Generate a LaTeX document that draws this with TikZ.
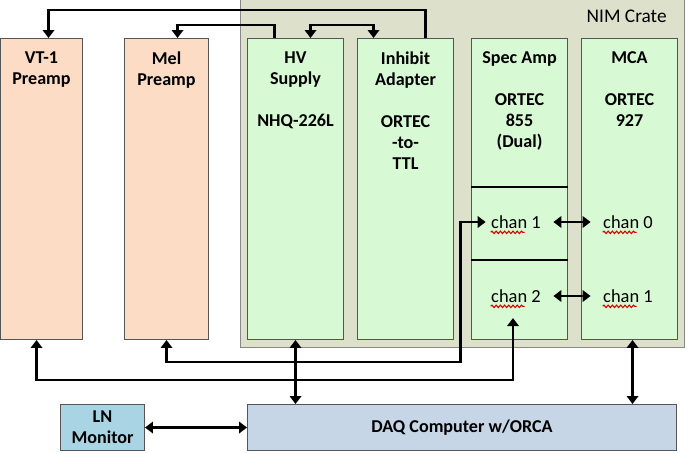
\documentclass[tikz,border=0pt]{standalone}
\usepackage{fontspec}
\setmainfont{Carlito}
\usepackage{xcolor}
\usetikzlibrary{arrows.meta, positioning, calc, decorations.pathmorphing}

\definecolor{preampfill}{RGB}{253,220,197}
\definecolor{modfill}{RGB}{215,249,212}
\definecolor{cratefill}{RGB}{221,225,203}
\definecolor{lnfill}{RGB}{168,212,227}
\definecolor{daqfill}{RGB}{198,214,231}
\definecolor{boxline}{RGB}{85,85,85}

\tikzset{
  unit/.style={draw=boxline, line width=0.6pt, anchor=north west, inner sep=0pt},
  preamp/.style={unit, fill=preampfill, minimum height=6.02cm},
  module/.style={unit, fill=modfill, minimum width=1.92cm, minimum height=6.02cm},
  lbl/.style={font=\bfseries, align=center, anchor=north, inner sep=0pt},
  chanlbl/.style={inner sep=3pt, font=\fontsize{10.5}{12}\selectfont},
  wire/.style={line width=1.5pt, -{Triangle[width=6.5pt,length=4.5pt]}},
  biwire/.style={line width=1.5pt, {Triangle[width=6.5pt,length=4.5pt]}-{Triangle[width=6.5pt,length=4.5pt]}},
  divider/.style={line width=1.5pt},
  squiggle/.style={red!85!black, line width=0.6pt, decorate,
    decoration={snake, amplitude=0.7pt, segment length=2.4pt}},
}

\begin{document}
\fontsize{10.3}{12}\selectfont
\begin{tikzpicture}[x=0.02cm, y=-0.02cm]
    \useasboundingbox (0,0) rectangle (689,453);

    % NIM crate
    \node[unit, draw=boxline!70, fill=cratefill, minimum width=8.88cm, minimum height=7.04cm] (crate) at (240,-5) {};
    \node[anchor=base east, font=\fontsize{11}{13}\selectfont] (cratelbl) at ($(crate.north east)+(-12,27)$) {NIM Crate};

    % Preamps
    \node[preamp, minimum width=1.64cm] (vt) at (0,38) {};
    \node[lbl] (vtlbl) at ($(vt.north)+(0,13)$) {VT-1\\Preamp};
    \node[preamp, minimum width=1.68cm] (mel) at (124,38) {};
    \node[lbl] (mellbl) at ($(mel.north)+(0,13)$) {Mel\\Preamp};

    % NIM modules
    \node[module] (hv) at (247,38) {};
    \node[lbl] (hvlbl) at ($(hv.north)+(0,13)$) {HV\\Supply\\[12pt]NHQ-226L};
    \node[module] (inh) at (357,38) {};
    \node[lbl] (inhlbl) at ($(inh.north)+(0,13)$) {Inhibit\\Adapter\\[12pt]ORTEC\\-to-\\TTL};
    \node[module] (spec) at (471,38) {};
    \node[lbl] (speclbl) at ($(spec.north)+(0,13)$) {Spec Amp\\[12pt]ORTEC\\855\\(Dual)};
    \node[module] (mca) at (581,38) {};
    \node[lbl] (mcalbl) at ($(mca.north)+(0,13)$) {MCA\\[12pt]ORTEC\\927};

    % Spec amp channels
    \draw[divider] (spec.west |- 0,187) -- (spec.east |- 0,187);
    \draw[divider] (spec.west |- 0,260) -- (spec.east |- 0,260);
    \node[chanlbl] (ch1a) at (516,222) {chan 1};
    \node[chanlbl] (ch2) at (516,296) {chan 2};
    \node[chanlbl] (ch0) at (628,222) {chan 0};
    \node[chanlbl] (ch1b) at (628,296) {chan 1};
    \foreach \c in {ch1a, ch2, ch0, ch1b}
        \draw[squiggle] ($(\c.base west)+(5,4)$) -- ++(34,0);

    % Computers
    \node[unit, fill=lnfill, minimum width=1.68cm, minimum height=0.92cm, font=\bfseries, align=center] (ln) at (60,404) {LN\\Monitor};
    \node[unit, fill=daqfill, minimum width=8.58cm, minimum height=0.92cm, font=\bfseries] (daq) at (247,404) {DAQ Computer w/ORCA};

    % Top wiring
    \draw[wire] ($(inh.north)+(20,0)$) -- ++(0,-28) -| ($(vt.north)+(7,0)$);
    \draw[wire] ($(hv.north)+(-21,0)$) -- ++(0,-13) -| ($(mel.north)+(11,0)$);
    \draw[biwire] ($(hv.north)+(15,0)$) -- ++(0,-13) -| ($(inh.north)+(-32,0)$);

    % Channel links
    \draw[biwire, shorten <=4pt, shorten >=4pt] (ch1a.east) -- (ch0.west);
    \draw[biwire, shorten <=4pt, shorten >=4pt] (ch2.east) -- (ch1b.west);

    % Bottom wiring
    \draw[biwire] ($(vt.south)+(-5,0)$) -- ++(0,40) -| ($(ch2.south)+(-3,10)$);
    \draw[biwire] (mel.south) -- ++(0,22) -| ($(ch1a.west)+(-25,0)$) -- (ch1a.west);
    \draw[biwire] (hv.south) -- (hv.south |- daq.north);
    \draw[biwire] ($(mca.south)+(3,0)$) -- ($(mca.south |- daq.north)+(3,0)$);
    \draw[biwire] (ln.east) -- (daq.west);
\end{tikzpicture}
\end{document}
